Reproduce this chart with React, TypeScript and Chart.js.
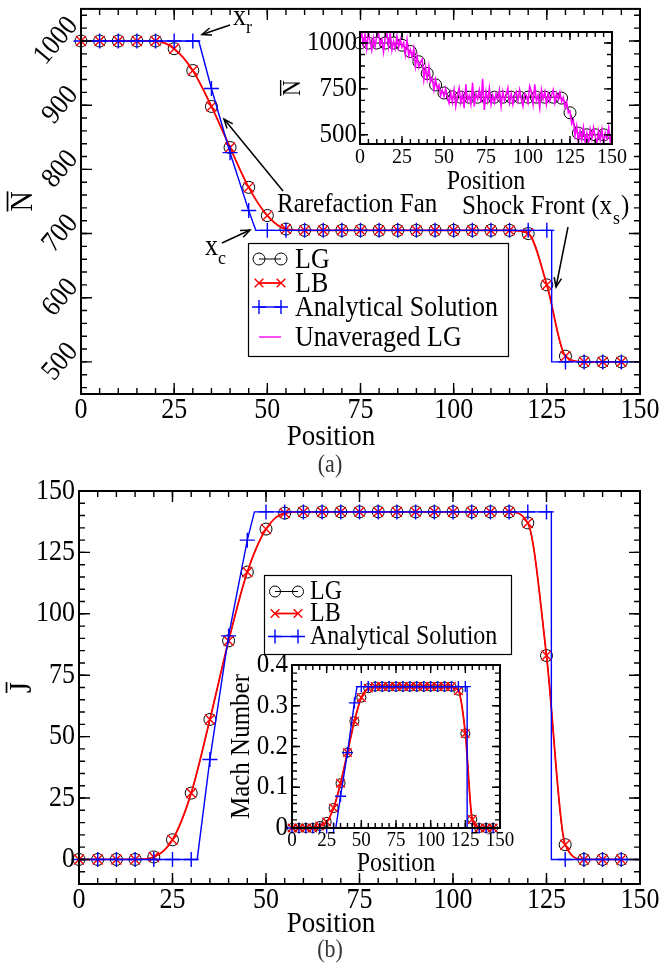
import React, { useEffect, useRef } from "react";
import { Chart, registerables } from "chart.js";

Chart.register(...registerables);

const SERIF = '"Liberation Serif", "Times New Roman", Times, serif';
const STRETCH = 1.1;

// ---------------- data ----------------
const positions = [0, 5, 10, 15, 20, 25, 30, 35, 40, 45, 50, 55, 60, 65, 70, 75, 80, 85, 90, 95, 100, 105, 110, 115, 120, 125, 130, 135, 140, 145];

const lgDensity = [1000, 1000, 1000, 1000, 1000, 988, 954, 898, 834, 772, 728, 707, 705, 705, 705, 705, 705, 705, 705, 705, 705, 705, 705, 705, 700, 620, 509, 500, 500, 500];
const lbDensity = [1000, 1000, 1000, 1000, 1000, 988, 954, 898, 834, 772, 728, 707, 705, 705, 705, 705, 705, 705, 705, 705, 705, 705, 705, 705, 700, 620, 509, 500, 500, 500];
const analyticDensity = [1000, 1000, 1000, 1000, 1000, 1000, 1000, 926, 826, 736, 705, 705, 705, 705, 705, 705, 705, 705, 705, 705, 705, 705, 705, 705, 705, 705, 500, 500, 500, 500];

const analyticBreakX = [0, 31.6, 35, 40, 45, 46.9, 126.3, 126.3, 150];
const analyticDensityBreakY = [1000, 1000, 926, 826, 736, 705, 705, 500, 500];

// unaveraged LG density, one value per lattice position 0..150
const unaveragedDensity = [
  1020, 1058, 990, 1050, 970, 1058, 1010, 960, 1030, 980,
  1040, 1058, 990, 1020, 950, 1030, 1058, 980, 1058, 960,
  1010, 970, 1040, 976, 1022, 978, 1002, 935, 1018, 931,
  964, 923, 972, 871, 930, 868, 895, 912, 800, 867,
  804, 872, 789, 807, 744, 802, 752, 772, 713, 745,
  708, 752, 706, 672, 729, 677, 745, 655, 715, 755,
  675, 725, 645, 775, 685, 715, 665, 785, 655, 725,
  695, 745, 675, 805, 635, 735, 685, 755, 665, 715,
  675, 725, 695, 745, 655, 735, 685, 715, 755, 675,
  725, 665, 715, 735, 685, 745, 695, 655, 725, 715,
  675, 765, 735, 665, 775, 685, 715, 645, 745, 695,
  735, 665, 725, 685, 715, 745, 675, 725, 693, 732,
  680, 704, 650, 680, 620, 630, 560, 580, 495, 548,
  459, 524, 472, 540, 460, 510, 450, 530, 480, 540,
  490, 452, 520, 470, 530, 452, 510, 480, 540, 460,
  510,
];

const lgFlux = [0, 0, 0, 0, 1, 8, 27, 57, 89, 117, 134.5, 141, 141.5, 141.5, 141.5, 141.5, 141.5, 141.5, 141.5, 141.5, 141.5, 141.5, 141.5, 141.5, 137, 83, 6, 0, 0, 0];
const lbFlux = [0, 0, 0, 0, 1, 8, 27, 57, 89, 117, 134.5, 141, 141.5, 141.5, 141.5, 141.5, 141.5, 141.5, 141.5, 141.5, 141.5, 141.5, 141.5, 141.5, 137, 83, 6, 0, 0, 0];
const analyticFlux = [0, 0, 0, 0, 0, 0, 0, 40.7, 91, 130, 141.5, 141.5, 141.5, 141.5, 141.5, 141.5, 141.5, 141.5, 141.5, 141.5, 141.5, 141.5, 141.5, 141.5, 141.5, 141.5, 0, 0, 0, 0];
const analyticFluxBreakY = [0, 0, 40.7, 91, 130, 141.5, 141.5, 0, 0];

const lgMach = [0, 0, 0, 0, 0.005, 0.015, 0.049, 0.11, 0.185, 0.262, 0.32, 0.343, 0.347, 0.347, 0.347, 0.347, 0.347, 0.347, 0.347, 0.347, 0.347, 0.347, 0.347, 0.347, 0.337, 0.232, 0.021, 0, 0, 0];
const lbMach = [0, 0, 0, 0, 0.005, 0.015, 0.049, 0.11, 0.185, 0.262, 0.32, 0.343, 0.347, 0.347, 0.347, 0.347, 0.347, 0.347, 0.347, 0.347, 0.347, 0.347, 0.347, 0.347, 0.337, 0.232, 0.021, 0, 0, 0];
const analyticMach = [0, 0, 0, 0, 0, 0, 0, 0.078, 0.185, 0.307, 0.347, 0.347, 0.347, 0.347, 0.347, 0.347, 0.347, 0.347, 0.347, 0.347, 0.347, 0.347, 0.347, 0.347, 0.347, 0.347, 0, 0, 0, 0];
const analyticMachBreakY = [0, 0, 0.078, 0.185, 0.307, 0.347, 0.347, 0, 0];

const positionTicks = [0, 25, 50, 75, 100, 125, 150];
const densityTicks = [500, 600, 700, 800, 900, 1000];
const insetDensityTicks = [500, 750, 1000];
const fluxTicks = [0, 25, 50, 75, 100, 125, 150];
const machTicks = [0, 0.1, 0.2, 0.3, 0.4];
const machTickLabels = ["0", "0.1", "0.2", "0.3", "0.4"];

// ---------------- helpers ----------------
const pts = (xs: number[], ys: number[]) => xs.map((x, i) => ({ x, y: ys[i] }));

function setFont(ctx: CanvasRenderingContext2D, size: number) {
  ctx.font = `${size}px ${SERIF}`;
}

// text drawn with slight vertical stretch (matches the tall glyphs of the figure)
function txt(ctx: CanvasRenderingContext2D, s: string, x: number, y: number, rot = 0) {
  ctx.save();
  ctx.translate(x, y);
  if (rot) ctx.rotate(rot);
  ctx.scale(1, STRETCH);
  ctx.fillText(s, 0, 0);
  ctx.restore();
}

function minorValues(min: number, max: number, step: number) {
  const out: number[] = [];
  const start = Math.ceil(min / step - 1e-9);
  for (let k = start; k * step <= max + 1e-9; k++) out.push(+(k * step).toFixed(6));
  return out;
}

function drawArrow(ctx: CanvasRenderingContext2D, x1: number, y1: number, x2: number, y2: number) {
  ctx.beginPath();
  ctx.moveTo(x1, y1);
  ctx.lineTo(x2, y2);
  ctx.stroke();
  const ang = Math.atan2(y2 - y1, x2 - x1);
  const L = 10, sp = 0.38;
  ctx.beginPath();
  ctx.moveTo(x2 - L * Math.cos(ang - sp), y2 - L * Math.sin(ang - sp));
  ctx.lineTo(x2, y2);
  ctx.lineTo(x2 - L * Math.cos(ang + sp), y2 - L * Math.sin(ang + sp));
  ctx.stroke();
}

type Marker = "circle" | "x" | "plus" | "none";
function drawMarker(ctx: CanvasRenderingContext2D, m: Marker, x: number, y: number, r: number) {
  ctx.beginPath();
  if (m === "circle") {
    ctx.arc(x, y, r, 0, Math.PI * 2);
  } else if (m === "x") {
    const d = r * 0.72;
    ctx.moveTo(x - d, y - d); ctx.lineTo(x + d, y + d);
    ctx.moveTo(x - d, y + d); ctx.lineTo(x + d, y - d);
  } else if (m === "plus") {
    ctx.moveTo(x - r, y); ctx.lineTo(x + r, y);
    ctx.moveTo(x, y - r); ctx.lineTo(x, y + r);
  }
  ctx.stroke();
}

type LegendItem = { label: string; color: string; lw: number; marker: Marker; r: number; mlw: number };
function drawLegend(
  ctx: CanvasRenderingContext2D,
  box: { x: number; y: number; w: number; h: number },
  items: LegendItem[],
  rows: number[],
  sx1: number,
  sx2: number,
  tx: number,
  font: number
) {
  ctx.save();
  ctx.fillStyle = "#fff";
  ctx.fillRect(box.x, box.y, box.w, box.h);
  ctx.strokeStyle = "#000";
  ctx.lineWidth = 1.2;
  ctx.strokeRect(box.x + 0.5, box.y + 0.5, box.w, box.h);
  items.forEach((it, i) => {
    const y = rows[i];
    ctx.strokeStyle = it.color;
    ctx.lineWidth = it.lw;
    ctx.beginPath();
    ctx.moveTo(sx1, y);
    ctx.lineTo(sx2, y);
    ctx.stroke();
    if (it.marker !== "none") {
      ctx.lineWidth = it.mlw;
      drawMarker(ctx, it.marker, sx1, y, it.r);
      drawMarker(ctx, it.marker, sx2, y, it.r);
    }
    ctx.fillStyle = "#000";
    setFont(ctx, font);
    ctx.textAlign = "left";
    ctx.textBaseline = "middle";
    txt(ctx, it.label, tx, y + 1);
  });
  ctx.restore();
}

type Spec = {
  xMajor: number[];
  xLabels: string[];
  xMinorStep: number;
  yMajor: number[];
  yLabels: string[];
  yMinorStep: number;
  majorLen: number;
  minorLen: number;
  frameWidth: number;
  xFont: number;
  xLabelDy: number;
  yFont: number;
  yLabelGap: number;
  yRotate: number;
  xTitle: string;
  xTitleFont: number;
  xTitleX?: number;
  xTitleDy: number;
  yTitle: string;
  yTitleBar: boolean;
  yTitleFont: number;
  yTitleX: number;
  whiteBg?: boolean;
  extra?: (ctx: CanvasRenderingContext2D) => void;
};

function axesPlugin(spec: Spec) {
  return {
    id: "customAxes",
    beforeDraw(chart: any) {
      if (!spec.whiteBg) return;
      const { ctx, chartArea: a } = chart;
      ctx.save();
      ctx.fillStyle = "#fff";
      ctx.fillRect(a.left, a.top, a.right - a.left, a.bottom - a.top);
      ctx.restore();
    },
    afterDraw(chart: any) {
      const ctx: CanvasRenderingContext2D = chart.ctx;
      const a = chart.chartArea;
      const xs = chart.scales.x;
      const ys = chart.scales.y;
      ctx.save();
      ctx.strokeStyle = "#000";
      ctx.fillStyle = "#000";
      ctx.lineWidth = 1.4;
      const xTick = (v: number, len: number) => {
        const p = xs.getPixelForValue(v);
        ctx.beginPath();
        ctx.moveTo(p, a.bottom); ctx.lineTo(p, a.bottom - len);
        ctx.moveTo(p, a.top); ctx.lineTo(p, a.top + len);
        ctx.stroke();
      };
      const yTick = (v: number, len: number) => {
        const p = ys.getPixelForValue(v);
        ctx.beginPath();
        ctx.moveTo(a.left, p); ctx.lineTo(a.left + len, p);
        ctx.moveTo(a.right, p); ctx.lineTo(a.right - len, p);
        ctx.stroke();
      };
      minorValues(xs.min, xs.max, spec.xMinorStep).forEach((v) => xTick(v, spec.minorLen));
      minorValues(ys.min, ys.max, spec.yMinorStep).forEach((v) => yTick(v, spec.minorLen));
      spec.xMajor.forEach((v) => xTick(v, spec.majorLen));
      spec.yMajor.forEach((v) => yTick(v, spec.majorLen));

      ctx.lineWidth = spec.frameWidth;
      ctx.strokeRect(a.left, a.top, a.right - a.left, a.bottom - a.top);

      // x tick labels
      setFont(ctx, spec.xFont);
      ctx.textAlign = "center";
      ctx.textBaseline = "middle";
      spec.xMajor.forEach((v, i) => {
        txt(ctx, spec.xLabels[i], xs.getPixelForValue(v), a.bottom + spec.xLabelDy);
      });

      // y tick labels
      setFont(ctx, spec.yFont);
      spec.yMajor.forEach((v, i) => {
        const p = ys.getPixelForValue(v);
        const s = spec.yLabels[i];
        if (spec.yRotate) {
          const th = (spec.yRotate * Math.PI) / 180;
          const w = ctx.measureText(s).width;
          const cx = a.left - spec.yLabelGap - (w * Math.cos(th)) / 2;
          ctx.textAlign = "center";
          ctx.textBaseline = "middle";
          txt(ctx, s, cx, p, -th);
        } else {
          ctx.textAlign = "right";
          ctx.textBaseline = "middle";
          txt(ctx, s, a.left - spec.yLabelGap, p);
        }
      });

      // x title
      setFont(ctx, spec.xTitleFont);
      ctx.textAlign = "center";
      ctx.textBaseline = "middle";
      txt(ctx, spec.xTitle, spec.xTitleX ?? (a.left + a.right) / 2, a.bottom + spec.xTitleDy);

      // y title (rotated)
      ctx.save();
      ctx.translate(spec.yTitleX, (a.top + a.bottom) / 2);
      ctx.rotate(-Math.PI / 2);
      ctx.scale(1, STRETCH);
      setFont(ctx, spec.yTitleFont);
      ctx.textAlign = "center";
      ctx.textBaseline = "alphabetic";
      const f = spec.yTitleFont;
      const w = ctx.measureText(spec.yTitle).width;
      ctx.fillText(spec.yTitle, 0, 0.33 * f);
      if (spec.yTitleBar) {
        ctx.lineWidth = Math.max(1.2, f / 18);
        ctx.beginPath();
        ctx.moveTo(-w / 2, -0.33 * f - 0.14 * f);
        ctx.lineTo(w / 2, -0.33 * f - 0.14 * f);
        ctx.stroke();
      }
      ctx.restore();

      if (spec.extra) {
        ctx.save();
        spec.extra(ctx);
        ctx.restore();
      }
      ctx.restore();
    },
  };
}

function lgSet(data: any[], r: number) {
  return {
    label: "LG",
    data,
    borderColor: "#000",
    borderWidth: 1,
    pointStyle: "circle",
    pointRadius: r,
    pointBorderColor: "#000",
    pointBackgroundColor: "rgba(0,0,0,0)",
    pointBorderWidth: 1,
    cubicInterpolationMode: "monotone",
    clip: false,
    order: 4,
  };
}
function lbSet(data: any[], r: number) {
  return {
    label: "LB",
    data,
    borderColor: "#ff0000",
    borderWidth: 1.8,
    pointStyle: "crossRot",
    pointRadius: r,
    pointBorderColor: "#ff0000",
    pointBackgroundColor: "#ff0000",
    pointBorderWidth: 1.4,
    cubicInterpolationMode: "monotone",
    clip: false,
    order: 3,
  };
}
function analyticLineSet(data: any[]) {
  return {
    label: "Analytical Solution line",
    data,
    borderColor: "#0000ff",
    borderWidth: 1.4,
    pointRadius: 0,
    tension: 0,
    order: 2,
  };
}
function analyticMarkSet(data: any[], r: number) {
  return {
    label: "Analytical Solution",
    data,
    showLine: false,
    pointStyle: "cross",
    pointRadius: r,
    pointBorderColor: "#0000ff",
    pointBackgroundColor: "#0000ff",
    pointBorderWidth: 1.4,
    clip: false,
    order: 1,
  };
}

function makeConfig(datasets: any[], pad: any, xr: [number, number], yr: [number, number], spec: Spec) {
  return {
    type: "line",
    data: { datasets },
    options: {
      responsive: false,
      animation: false,
      devicePixelRatio: 1,
      layout: { padding: pad },
      events: [],
      scales: {
        x: { type: "linear", min: xr[0], max: xr[1], display: false },
        y: { type: "linear", min: yr[0], max: yr[1], display: false },
      },
      plugins: { legend: { display: false }, tooltip: { enabled: false } },
    },
    plugins: [axesPlugin(spec)],
  } as any;
}

// ---------------- chart configs ----------------
function topMainConfig() {
  const spec: Spec = {
    xMajor: positionTicks,
    xLabels: positionTicks.map(String),
    xMinorStep: 5,
    yMajor: densityTicks,
    yLabels: densityTicks.map(String),
    yMinorStep: 20,
    majorLen: 11,
    minorLen: 6,
    frameWidth: 2,
    xFont: 26,
    xLabelDy: 16,
    yFont: 26,
    yLabelGap: 8,
    yRotate: 50,
    xTitle: "Position",
    xTitleFont: 27,
    xTitleX: 331,
    xTitleDy: 43,
    yTitle: "N",
    yTitleBar: true,
    yTitleFont: 28,
    yTitleX: 22,
    extra: (ctx) => {
      ctx.fillStyle = "#000";
      ctx.strokeStyle = "#000";
      ctx.lineWidth = 1.5;
      ctx.textAlign = "left";
      ctx.textBaseline = "alphabetic";
      // x_r
      setFont(ctx, 26); txt(ctx, "x", 233, 25);
      setFont(ctx, 18); txt(ctx, "r", 246, 33);
      drawArrow(ctx, 230, 25, 202, 34.5);
      // Rarefaction Fan
      setFont(ctx, 25); txt(ctx, "Rarefaction Fan", 277, 212);
      drawArrow(ctx, 283, 191, 224, 119);
      // x_c
      setFont(ctx, 26); txt(ctx, "x", 205, 255);
      setFont(ctx, 18); txt(ctx, "c", 218, 264);
      drawArrow(ctx, 222, 243, 250, 230);
      // Shock Front (x_s)
      setFont(ctx, 25);
      const s1 = "Shock Front (x";
      txt(ctx, s1, 462, 214);
      const w1 = ctx.measureText(s1).width;
      setFont(ctx, 18); txt(ctx, "s", 462 + w1 + 1, 224);
      setFont(ctx, 25); txt(ctx, ")", 462 + w1 + 9, 214);
      drawArrow(ctx, 568, 227, 556, 287);
      // legend
      drawLegend(
        ctx,
        { x: 248, y: 243, w: 260, h: 113 },
        [
          { label: "LG", color: "#000", lw: 1, marker: "circle", r: 6, mlw: 1 },
          { label: "LB", color: "#ff0000", lw: 1.8, marker: "x", r: 6, mlw: 1.4 },
          { label: "Analytical Solution", color: "#0000ff", lw: 1.4, marker: "plus", r: 7, mlw: 1.4 },
          { label: "Unaveraged LG", color: "#ff00ff", lw: 1.4, marker: "none", r: 0, mlw: 1 },
        ],
        [259, 283, 307, 337],
        259,
        281,
        295,
        26
      );
      // caption
      setFont(ctx, 22);
      ctx.fillStyle = "#333";
      ctx.textAlign = "center";
      ctx.textBaseline = "middle";
      txt(ctx, "(a)", 330, 466);
    },
  };
  return makeConfig(
    [
      lgSet(pts(positions, lgDensity), 6),
      lbSet(pts(positions, lbDensity), 7),
      analyticLineSet(pts(analyticBreakX, analyticDensityBreakY)),
      analyticMarkSet(pts(positions, analyticDensity), 7.5),
    ],
    { left: 81, top: 4, right: 20, bottom: 86 },
    [0, 150],
    [450, 1050],
    spec
  );
}

function topInsetConfig() {
  const spec: Spec = {
    xMajor: positionTicks,
    xLabels: positionTicks.map(String),
    xMinorStep: 5,
    yMajor: insetDensityTicks,
    yLabels: insetDensityTicks.map(String),
    yMinorStep: 62.5,
    majorLen: 8,
    minorLen: 5,
    frameWidth: 2,
    xFont: 20,
    xLabelDy: 13,
    yFont: 25,
    yLabelGap: 3,
    yRotate: 0,
    xTitle: "Position",
    xTitleFont: 24,
    xTitleDy: 38,
    yTitle: "N",
    yTitleBar: true,
    yTitleFont: 22,
    yTitleX: 22,
    whiteBg: true,
  };
  const unavg = unaveragedDensity.map((v, i) => ({ x: i, y: v }));
  return makeConfig(
    [
      {
        label: "Unaveraged LG",
        data: unavg,
        borderColor: "#ff00ff",
        borderWidth: 1.5,
        pointRadius: 0,
        tension: 0,
        order: 1,
      },
      { ...lgSet(pts(positions, lgDensity), 6), order: 2 },
    ],
    { left: 90, top: 12, right: 28, bottom: 56 },
    [0, 150],
    [450, 1060],
    spec
  );
}

function bottomMainConfig() {
  const spec: Spec = {
    xMajor: positionTicks,
    xLabels: positionTicks.map(String),
    xMinorStep: 5,
    yMajor: fluxTicks,
    yLabels: fluxTicks.map(String),
    yMinorStep: 5,
    majorLen: 11,
    minorLen: 6,
    frameWidth: 2,
    xFont: 26,
    xLabelDy: 16,
    yFont: 26,
    yLabelGap: 4,
    yRotate: 0,
    xTitle: "Position",
    xTitleFont: 27,
    xTitleX: 331,
    xTitleDy: 40,
    yTitle: "J",
    yTitleBar: true,
    yTitleFont: 28,
    yTitleX: 21,
    extra: (ctx) => {
      drawLegend(
        ctx,
        { x: 264, y: 95, w: 247, h: 79 },
        [
          { label: "LG", color: "#000", lw: 1, marker: "circle", r: 5.5, mlw: 1 },
          { label: "LB", color: "#ff0000", lw: 1.8, marker: "x", r: 6, mlw: 1.4 },
          { label: "Analytical Solution", color: "#0000ff", lw: 1.4, marker: "plus", r: 7, mlw: 1.4 },
        ],
        [111.5, 133.5, 156.5],
        275,
        298,
        310,
        24
      );
      setFont(ctx, 22);
      ctx.fillStyle = "#333";
      ctx.textAlign = "center";
      ctx.textBaseline = "middle";
      txt(ctx, "(b)", 330, 471);
    },
  };
  return makeConfig(
    [
      lgSet(pts(positions, lgFlux), 6),
      lbSet(pts(positions, lbFlux), 7),
      analyticLineSet(pts(analyticBreakX, analyticFluxBreakY)),
      analyticMarkSet(pts(positions, analyticFlux), 7.5),
    ],
    { left: 79, top: 11, right: 20, bottom: 85 },
    [0, 150],
    [-10, 150],
    spec
  );
}

function bottomInsetConfig() {
  const spec: Spec = {
    xMajor: positionTicks,
    xLabels: positionTicks.map(String),
    xMinorStep: 5,
    yMajor: machTicks,
    yLabels: machTickLabels,
    yMinorStep: 0.02,
    majorLen: 8,
    minorLen: 5,
    frameWidth: 2,
    xFont: 19,
    xLabelDy: 13,
    yFont: 25,
    yLabelGap: 4,
    yRotate: 0,
    xTitle: "Position",
    xTitleFont: 24,
    xTitleDy: 36,
    yTitle: "Mach Number",
    yTitleBar: false,
    yTitleFont: 25,
    yTitleX: 30,
    whiteBg: true,
  };
  return makeConfig(
    [
      lgSet(pts(positions, lgMach), 4.5),
      lbSet(pts(positions, lbMach), 6),
      analyticLineSet(pts(analyticBreakX, analyticMachBreakY)),
      analyticMarkSet(pts(positions, analyticMach), 5.5),
    ],
    { left: 82, top: 25, right: 20, bottom: 62 },
    [0, 150],
    [0, 0.4],
    spec
  );
}

// ---------------- component ----------------
export default function App() {
  const r1 = useRef<HTMLCanvasElement>(null);
  const r2 = useRef<HTMLCanvasElement>(null);
  const r3 = useRef<HTMLCanvasElement>(null);
  const r4 = useRef<HTMLCanvasElement>(null);

  useEffect(() => {
    const charts: Chart[] = [];
    if (r1.current) charts.push(new Chart(r1.current, topMainConfig()));
    if (r2.current) charts.push(new Chart(r2.current, topInsetConfig()));
    if (r3.current) charts.push(new Chart(r3.current, bottomMainConfig()));
    if (r4.current) charts.push(new Chart(r4.current, bottomInsetConfig()));
    return () => charts.forEach((c) => c.destroy());
  }, []);

  const abs = (l: number, t: number, w: number, h: number): React.CSSProperties => ({
    position: "absolute",
    left: l,
    top: t,
    width: w,
    height: h,
  });

  return (
    <div style={{ position: "absolute", left: 0, top: 0, width: 660, height: 969, background: "#fff", overflow: "hidden" }}>
      <canvas ref={r1} width={660} height={480} style={abs(0, 0, 660, 480)} />
      <canvas ref={r2} width={370} height={180} style={abs(270, 20, 370, 180)} />
      <canvas ref={r3} width={660} height={489} style={abs(0, 480, 660, 489)} />
      <canvas ref={r4} width={310} height={250} style={abs(210, 640, 310, 250)} />
    </div>
  );
}
